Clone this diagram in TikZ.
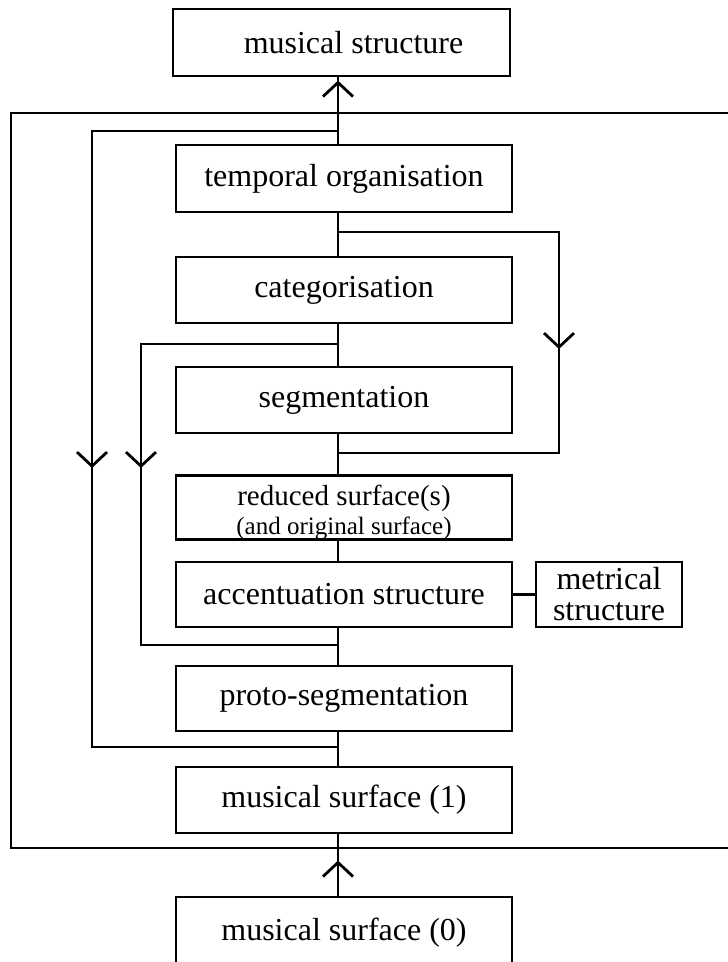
\documentclass[tikz,border=0pt]{standalone}
\usepackage{fontspec}
\setmainfont{Liberation Serif}
\usetikzlibrary{arrows.meta,decorations.markings}
\begin{document}
\begin{tikzpicture}[x=1pt,y=-1pt,
  box/.style={draw, line width=2.8pt, minimum width=336pt, minimum height=65pt, inner sep=0pt, align=center, font=\fontsize{32}{34}\selectfont},
  conn/.style={line width=2.8pt},
  midarrow/.style={postaction={decorate,decoration={markings,mark=at position #1 with {\arrow{Straight Barb[length=14pt,width=30pt]}}}}}
]
\useasboundingbox (0,0) rectangle (728,962);
\clip (0,0) rectangle (728,962);

\coordinate (cx) at (338,0);
\coordinate (lx) at (92,0);
\coordinate (ix) at (141,0);
\coordinate (rx) at (559,0);

\node[box, minimum width=337pt, minimum height=67pt] (ms) at (341.5,42.5) {\hspace*{24pt}musical structure};
\node[box, minimum height=67pt] (temp) at (344,178.5) {temporal organisation};
\node[box, minimum height=66pt] (cat) at (344,290) {categorisation};
\node[box, minimum height=66pt] (seg) at (344,400) {segmentation};
\node[box, minimum height=63pt, font=\fontsize{25}{29}\selectfont] (red) at (344,507.5) {{\fontsize{29}{29}\selectfont\rule{0pt}{29.5pt}reduced surface(s)}\\(and original surface)};
\node[box] (acc) at (344,594.5) {accentuation structure};
\node[box, minimum width=146pt, font=\fontsize{32}{31}\selectfont] (met) at (609,594.5) {metrical\\structure};
\node[box] (proto) at (344,698.5) {proto-segmentation};
\node[box, minimum height=66pt] (surf1) at (344,800) {musical surface (1)};
\node[box, minimum height=72pt] (surf0) at (344,933) {musical surface (0)};

% outer frame
\draw[conn] (11,113) rectangle (760,848);

% junctions on the central line
\coordinate (j1) at (338,131);
\coordinate (j2) at (338,232);
\coordinate (j3) at (338,344);
\coordinate (j4) at (338,453);
\coordinate (j5) at (338,645);
\coordinate (j6) at (338,747);

% central line
\draw[conn, midarrow=63pt] (temp.north -| cx) -- (ms.south -| cx);
\draw[conn] (temp.south -| cx) -- (cat.north -| cx);
\draw[conn] (cat.south -| cx) -- (seg.north -| cx);
\draw[conn] (seg.south -| cx) -- (red.north -| cx);
\draw[conn] (red.south -| cx) -- (acc.north -| cx);
\draw[conn] (acc.south -| cx) -- (proto.north -| cx);
\draw[conn] (proto.south -| cx) -- (surf1.north -| cx);
\draw[conn, midarrow=35pt] (surf0.north -| cx) -- (surf1.south -| cx);
\draw[conn] (acc.east) -- (met.west);

% feedback loops
\draw[conn, midarrow=583pt] (j1) -- (j1 -| lx) -- (j6 -| lx) -- (j6);
\draw[conn, midarrow=321pt] (j3) -- (j3 -| ix) -- (j5 -| ix) -- (j5);
\draw[conn, midarrow=338pt] (j2) -- (j2 -| rx) -- (j4 -| rx) -- (j4);
\end{tikzpicture}
\end{document}
